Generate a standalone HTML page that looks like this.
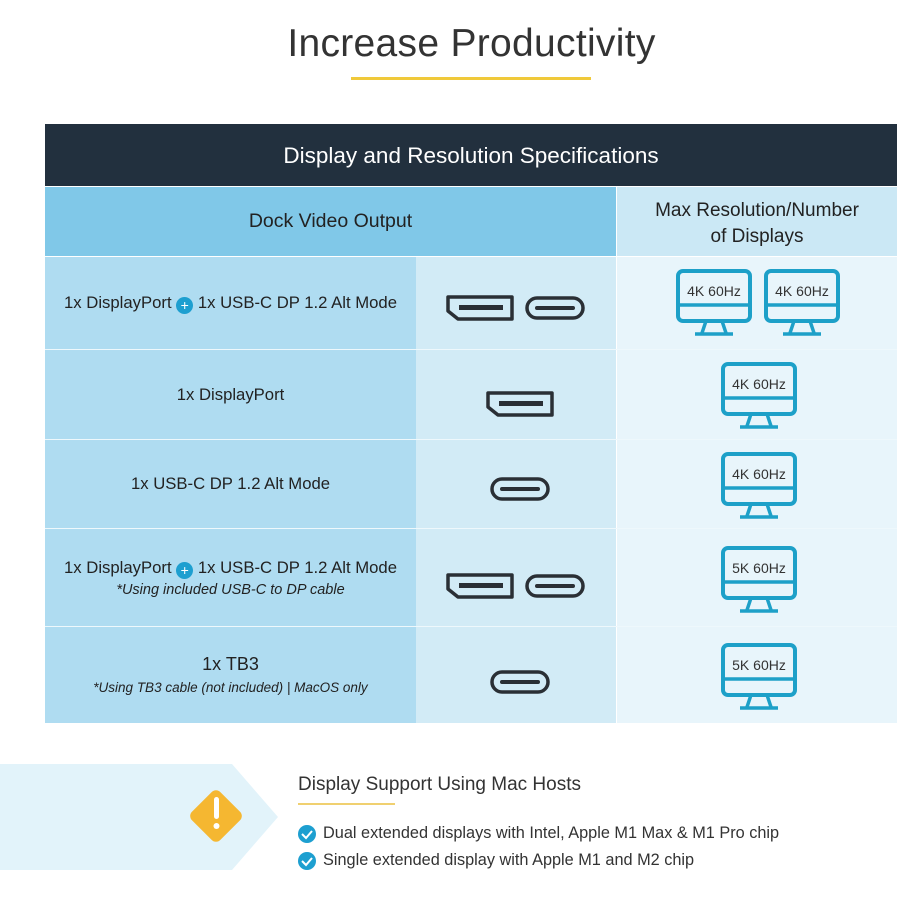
<!DOCTYPE html>
<html><head><style>
body{margin:0;width:900px;height:900px;background:#fff;font-family:"Liberation Sans",sans-serif;position:relative;overflow:hidden;color:#222}
.a{position:absolute}
.t{position:absolute;text-align:center;color:#222}
</style></head><body>
<div class="t" style="left:0;width:943px;top:22px;font-size:39px;color:#333;font-weight:300;letter-spacing:0.3px">Increase Productivity</div>
<div class="a" style="left:351px;top:77px;width:240px;height:3px;background:#f0c93a"></div>

<div class="a" style="left:45px;top:124px;width:852px;height:62px;background:#22303e"></div>
<div class="t" style="left:45px;width:852px;top:143px;font-size:22.5px;color:#fff">Display and Resolution Specifications</div>
<div class="a" style="left:45px;top:187px;width:571px;height:69px;background:#80c8e8"></div>
<div class="a" style="left:617px;top:187px;width:280px;height:69px;background:#cbe8f5"></div>
<div class="t" style="left:45px;width:571px;top:210px;font-size:19.5px">Dock Video Output</div>
<div class="t" style="left:617px;width:280px;top:198px;font-size:19px;line-height:26px">Max Resolution/Number<br>of Displays</div>

<div class="a" style="left:45px;top:257px;width:371px;height:466px;background:#afdcf1"></div>
<div class="a" style="left:416px;top:257px;width:200px;height:466px;background:#d2ebf6"></div>
<div class="a" style="left:617px;top:257px;width:280px;height:466px;background:#e8f5fb"></div>
<div class="a" style="left:45px;top:349px;width:852px;height:1px;background:#eef8fc"></div>
<div class="a" style="left:45px;top:439px;width:852px;height:1px;background:#eef8fc"></div>
<div class="a" style="left:45px;top:528px;width:852px;height:1px;background:#eef8fc"></div>
<div class="a" style="left:45px;top:626px;width:852px;height:1px;background:#eef8fc"></div>

<div class="t" style="left:45px;width:371px;top:293px;font-size:16.7px">1x DisplayPort <span style="display:inline-block;width:17px;height:17px;border-radius:50%;background:#1d9fd0;color:#fff;font-size:14px;line-height:17px;vertical-align:-2px">+</span> 1x USB-C DP 1.2 Alt Mode</div>
<div class="t" style="left:45px;width:371px;top:385px;font-size:16.7px">1x DisplayPort</div>
<div class="t" style="left:45px;width:371px;top:474px;font-size:16.7px">1x USB-C DP 1.2 Alt Mode</div>
<div class="t" style="left:45px;width:371px;top:558px;font-size:16.7px">1x DisplayPort <span style="display:inline-block;width:17px;height:17px;border-radius:50%;background:#1d9fd0;color:#fff;font-size:14px;line-height:17px;vertical-align:-2px">+</span> 1x USB-C DP 1.2 Alt Mode</div>
<div class="t" style="left:45px;width:371px;top:582px;font-size:14.5px;font-style:italic">*Using included USB-C to DP cable</div>
<div class="t" style="left:45px;width:371px;top:654px;font-size:18px">1x TB3</div>
<div class="t" style="left:45px;width:371px;top:680px;font-size:13.5px;font-style:italic">*Using TB3 cable (not included) | MacOS only</div>

<svg class="a" style="left:0;top:0" width="900" height="900">
<defs>
<g id="dp"><path d="M2 2 H66 V24 H12 L2 16 Z" fill="none" stroke="#2a2f35" stroke-width="3.5" stroke-linejoin="round"/><rect x="13" y="10" width="44" height="5" fill="#2a2f35"/></g>
<g id="uc"><rect x="2" y="2" width="56" height="20" rx="10" fill="none" stroke="#2a2f35" stroke-width="3.5"/><rect x="10" y="10" width="40" height="4" rx="2" fill="#2a2f35"/></g>
<g id="mon"><rect x="2" y="2" width="72" height="50" rx="5" fill="none" stroke="#1da0c8" stroke-width="4"/><line x1="2" y1="36" x2="74" y2="36" stroke="#1da0c8" stroke-width="3.5"/><path d="M30 52 L26 64 M46 52 L50 64" stroke="#1da0c8" stroke-width="3.5"/><line x1="19" y1="65" x2="57" y2="65" stroke="#1da0c8" stroke-width="3.5"/></g>
</defs>
<use href="#dp" x="446" y="295"/><use href="#uc" x="525" y="296"/>
<use href="#dp" x="486" y="391"/>
<use href="#uc" x="490" y="477"/>
<use href="#dp" x="446" y="573"/><use href="#uc" x="525" y="574"/>
<use href="#uc" x="490" y="670"/>
<use href="#mon" x="676" y="269"/><use href="#mon" x="764" y="269"/>
<use href="#mon" x="721" y="362"/><use href="#mon" x="721" y="452"/>
<use href="#mon" x="721" y="546"/><use href="#mon" x="721" y="643"/>
<g font-family="Liberation Sans" font-size="14" fill="#333" text-anchor="middle">
<text x="714" y="296">4K 60Hz</text><text x="802" y="296">4K 60Hz</text>
<text x="759" y="389">4K 60Hz</text><text x="759" y="479">4K 60Hz</text>
<text x="759" y="573">5K 60Hz</text><text x="759" y="670">5K 60Hz</text>
</g>
<path d="M0 764 H232 L278 817 L232 870 H0 Z" fill="#e2f3fa"/>
<rect x="196" y="796" width="40" height="40" rx="6" transform="rotate(45 216 816)" fill="#f5b731"/>
<rect x="214" y="797" width="5" height="22" rx="2.5" fill="#fff"/><circle cx="216.5" cy="826" r="3" fill="#fff"/>
<line x1="298" y1="804" x2="395" y2="804" stroke="#f0d070" stroke-width="2"/>
<circle cx="307" cy="834" r="9" fill="#1d9fd0"/><path d="M302 834 l4 4 l6 -7" stroke="#fff" stroke-width="2" fill="none"/>
<circle cx="307" cy="861" r="9" fill="#1d9fd0"/><path d="M302 861 l4 4 l6 -7" stroke="#fff" stroke-width="2" fill="none"/>
</svg>
<div class="a" style="left:298px;top:774px;font-size:19px;color:#333">Display Support Using Mac Hosts</div>
<div class="a" style="left:323px;top:824px;font-size:16.3px;color:#333">Dual extended displays with Intel, Apple M1 Max &amp; M1 Pro chip</div>
<div class="a" style="left:323px;top:851px;font-size:16.3px;color:#333">Single extended display with Apple M1 and M2 chip</div>
</body></html>
